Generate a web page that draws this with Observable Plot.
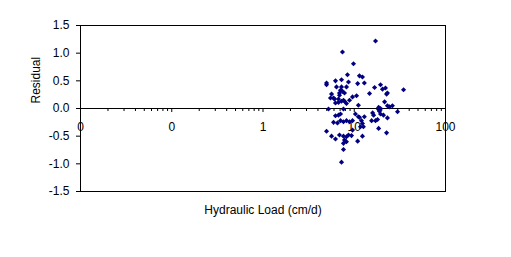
<!DOCTYPE html>
<html>
<head>
<meta charset="utf-8">
<script src="https://cdn.jsdelivr.net/npm/d3@7"></script>
<script src="https://cdn.jsdelivr.net/npm/@observablehq/plot@0.6"></script>
<style>
  html, body { margin: 0; padding: 0; background: #fff; }
  #chart { width: 511px; height: 257px; }
</style>
</head>
<body>
<div id="chart"></div>
<script>
// Hydraulic load (cm/d) and residual values
const hydraulicLoad = [
  17.1, 7.43, 9.81, 8.43, 11.4, 12.3, 4.97, 4.97, 6.23, 7.25,
  8.65, 10.9, 12.9, 19.4, 6.39, 7.25, 8.22, 16.7, 20.4, 22.0,
  34.7, 7.07, 7.43, 23.1, 22.6, 14.7, 5.64, 6.89, 6.89, 7.82,
  10.6, 9.57, 5.49, 5.93, 6.08, 6.72, 7.62, 8.87, 6.23, 6.72,
  7.25, 7.82, 8.22, 11.1, 21.5, 23.1, 26.2, 24.3, 18.5, 19.4,
  5.22, 7.62, 6.23, 6.72, 7.07, 10.3, 11.1, 11.4, 12.9, 15.9,
  16.3, 18.5, 18.9, 19.4, 20.9, 23.1, 29.8, 5.93, 6.55, 7.07,
  7.62, 8.22, 8.87, 9.57, 9.57, 12.0, 12.3, 12.6, 11.7, 15.5,
  17.1, 18.0, 18.5, 22.6, 4.97, 5.64, 6.23, 6.89, 7.62, 8.22,
  8.65, 9.33, 7.82, 8.22, 7.62, 10.9, 12.3, 7.62, 7.25
];
const residual = [
  1.22, 1.02, 0.81, 0.61, 0.59, 0.57, 0.46, 0.43, 0.50, 0.52,
  0.48, 0.45, 0.46, 0.43, 0.39, 0.39, 0.39, 0.38, 0.35, 0.37,
  0.34, 0.33, 0.31, 0.28, 0.26, 0.27, 0.26, 0.28, 0.24, 0.28,
  0.23, 0.21, 0.19, 0.19, 0.17, 0.17, 0.15, 0.15, 0.10, 0.11,
  0.13, 0.13, 0.09, 0.06, 0.12, 0.05, 0.05, 0.03, 0.02, 0.00,
  -0.01, -0.01, -0.13, -0.12, -0.10, -0.10, -0.15, -0.16, -0.15, -0.08,
  -0.12, -0.02, -0.05, -0.10, -0.12, -0.17, -0.06, -0.25, -0.26, -0.22,
  -0.24, -0.22, -0.24, -0.22, -0.39, -0.22, -0.27, -0.33, -0.33, -0.22,
  -0.22, -0.20, -0.36, -0.44, -0.41, -0.50, -0.55, -0.48, -0.50, -0.51,
  -0.48, -0.49, -0.57, -0.60, -0.63, -0.59, -0.50, -0.74, -0.97
];

const xMajorTicks = [0.01, 0.1, 1, 10, 100];
const xMajorLabels = ["0", "0", "1", "10", "100"];
const xMinorMultipliers = [2, 3, 4, 5, 6, 7, 8, 9];
const yTicks = [-1.5, -1.0, -0.5, 0.0, 0.5, 1.0, 1.5];
const xTitle = "Hydraulic Load (cm/d)";
const yTitle = "Residual";

const points = hydraulicLoad.map((x, i) => ({x, y: residual[i]}));
const minorTicks = xMajorTicks.slice(0, -1).flatMap(d => xMinorMultipliers.map(m => d * m));
const majorTable = xMajorTicks.map((v, i) => ({v, label: xMajorLabels[i]}));

const chart = Plot.plot({
  width: 511,
  height: 257,
  marginLeft: 80,
  marginRight: 66,
  marginTop: 25,
  marginBottom: 66,
  style: {fontFamily: "Arial, 'Liberation Sans', sans-serif", fontSize: "12px", background: "#fff", color: "#000"},
  x: {type: "log", domain: [0.01, 100], axis: null},
  y: {domain: [-1.5, 1.5], axis: null},
  marks: [
    Plot.frame({stroke: "#000"}),
    Plot.axisY(yTicks, {tickSize: 4, tickPadding: 7, tickFormat: d => d.toFixed(1), label: null, fontSize: 12, stroke: "#000"}),
    Plot.text(majorTable, {x: "v", y: () => 0, text: "label", dy: 19, fontSize: 12, fill: "#000"}),
    Plot.ruleY([0], {stroke: "#000"}),
    Plot.ruleX(minorTicks, {x: d => d, y1: () => 0, y2: () => 0, insetBottom: -3, stroke: "#000"}),
    Plot.ruleX(xMajorTicks, {x: d => d, y1: () => 0, y2: () => 0, insetBottom: -4, stroke: "#000"}),
    Plot.text([yTitle], {frameAnchor: "left", rotate: -90, dx: -44, dy: -5, fontSize: 12, fill: "#000"}),
    Plot.text([xTitle], {frameAnchor: "bottom", dy: 22, fontSize: 12, fill: "#000"}),
    Plot.dot(points, {x: "x", y: "y", symbol: "diamond2", r: 2.3, fill: "#000080", stroke: "none"})
  ]
});
document.getElementById("chart").appendChild(chart);
</script>
</body>
</html>
